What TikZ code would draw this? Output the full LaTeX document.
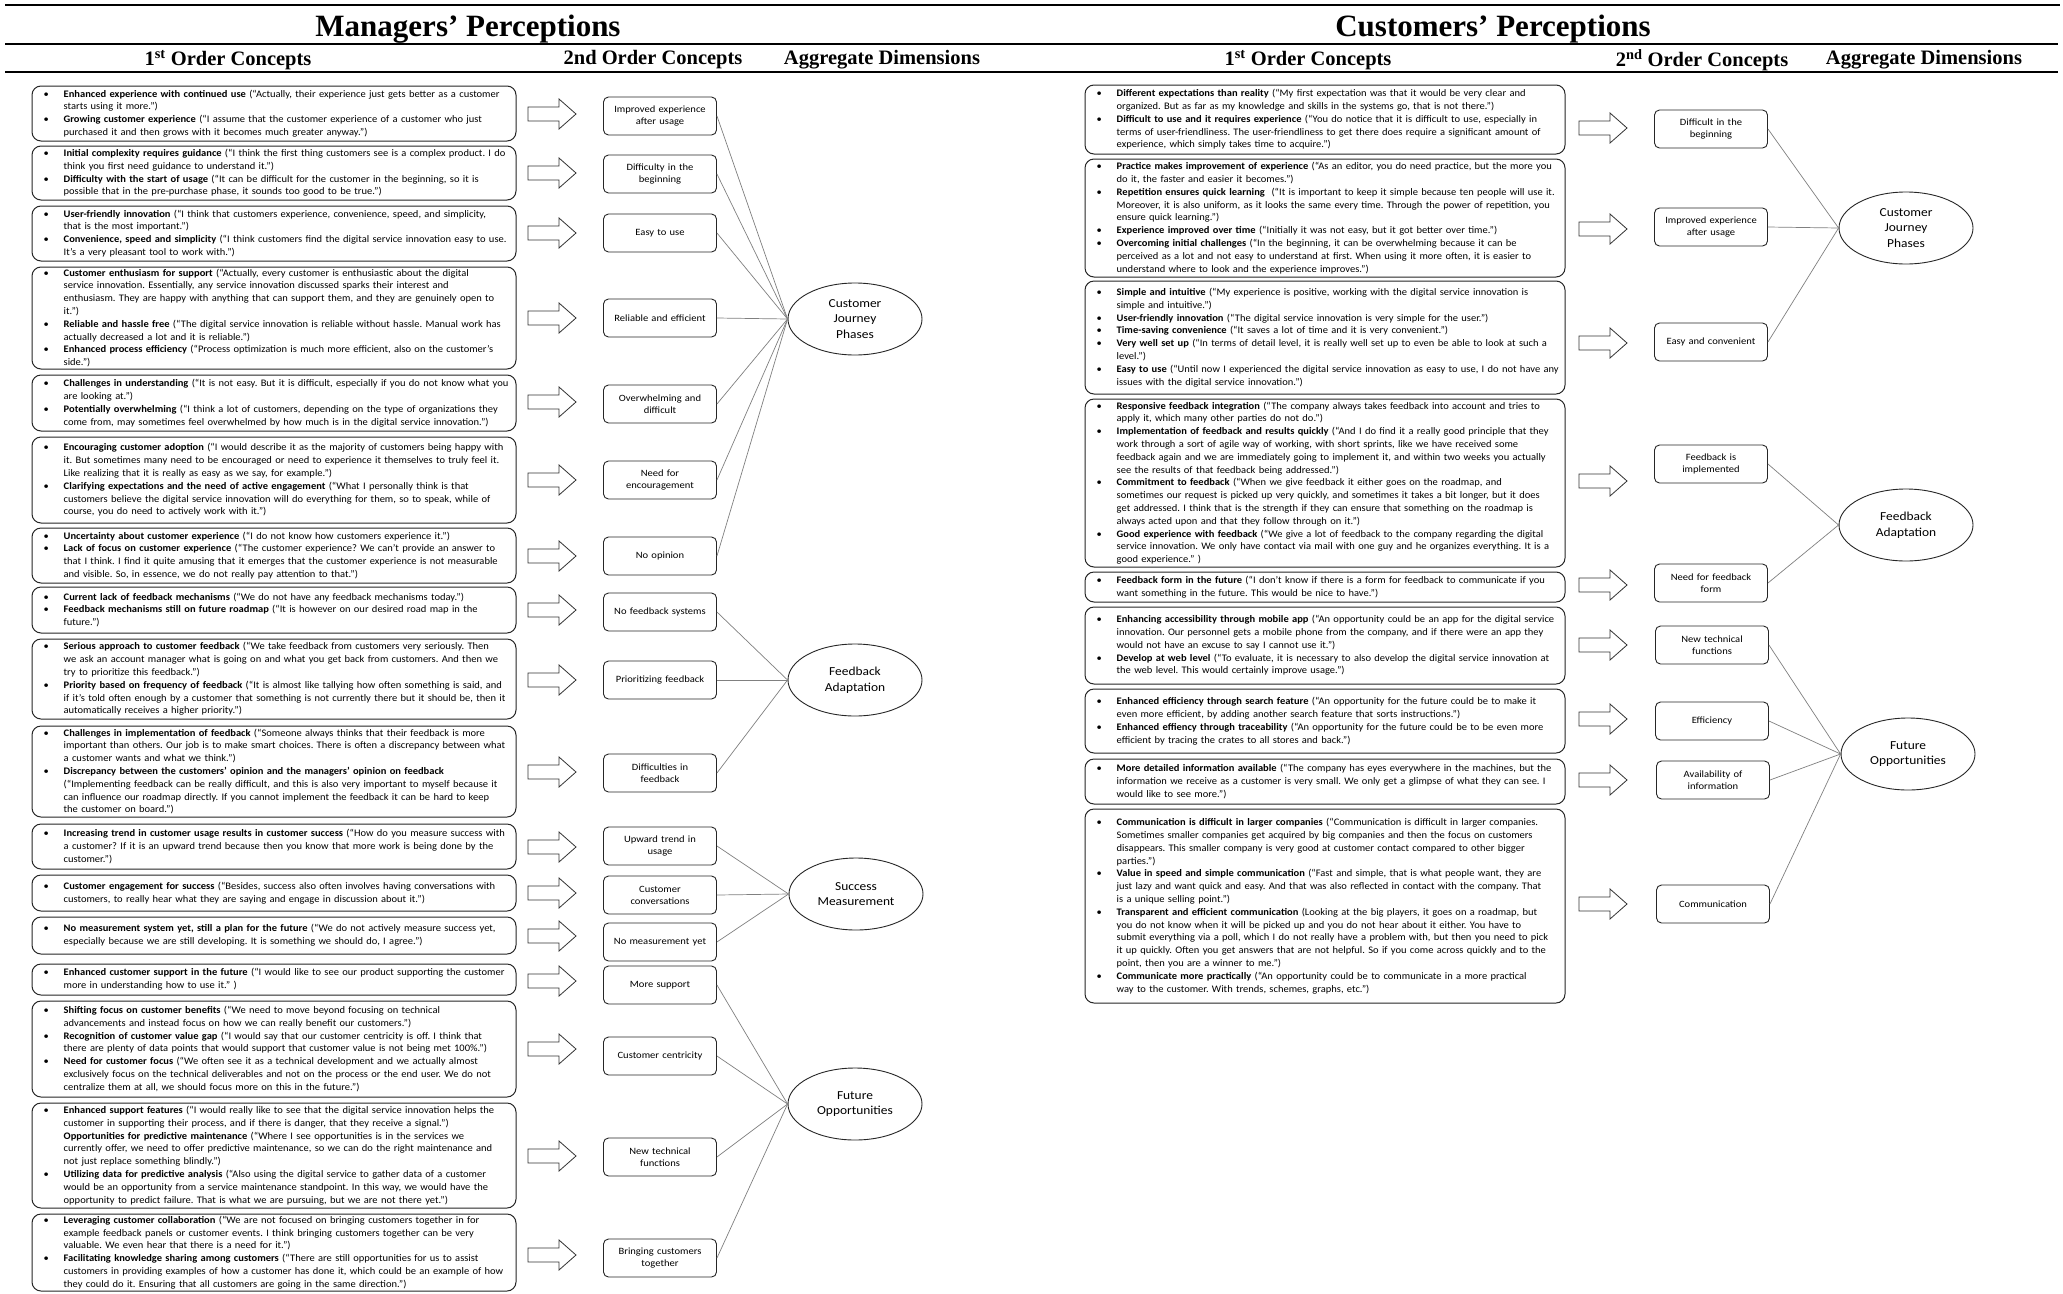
\documentclass[tikz,border=0pt]{standalone}
\usepackage{fontspec}
\setmainfont{Carlito}
\newfontfamily\cb[FakeStretch=1.05]{Carlito}
\newfontfamily\cs[FakeStretch=1.1]{Carlito}
\newfontfamily\hd{Liberation Serif}
\usetikzlibrary{shapes.geometric}
\newcommand\BL{\makebox[20pt][l]{•}}
\newcommand\CL{\hspace*{20pt}}
\tikzset{
 fobox/.style={draw=black!85, line width=1pt, rounded corners=9pt, inner sep=0pt},
 lfo/.style={fobox, minimum width=484pt},
 rfo/.style={fobox, minimum width=480pt},
 fotext/.style={inner sep=0pt, text width=540pt, align=left, anchor=west, font=\cb\fontsize{10}{12.8}\selectfont},
 sobox/.style={draw=black!85, line width=0.9pt, rounded corners=5pt, minimum width=113pt, minimum height=38pt, text width=108pt, inner sep=0pt, align=center, font=\cs\fontsize{9.6}{12}\selectfont},
 agg/.style={draw=black!85, line width=0.9pt, ellipse, minimum width=134pt, minimum height=72pt, inner sep=0pt, align=center, font=\cs\fontsize{12.2}{15.8}\selectfont},
 link/.style={draw=black!50, line width=0.7pt},
 barrow/.style={draw=black!80, line width=0.8pt, fill=white},
 hdtitle/.style={font=\hd\bfseries\fontsize{31}{36}\selectfont, inner sep=0pt},
 hdsub/.style={font=\hd\bfseries\fontsize{20.5}{24}\selectfont, inner sep=0pt},
 hrule/.style={line width=2.8pt}
}
\newcommand\fol[4]{\node[lfo, minimum height={#3-#2}] (#1) at (274,{(#2+#3)/2}) {};
 \node[fotext] (#1t) at ([xshift=12pt]#1.west) {#4};}
\newcommand\forr[4]{\node[rfo, minimum height={#3-#2}] (#1) at (1325,{(#2+#3)/2}) {};
 \node[fotext] (#1t) at ([xshift=12pt]#1.west) {#4};}
\newcommand\barr[2]{\draw[barrow] (#1,#2-7) -- ++(31,0) -- ++(0,-8) -- ++(17,15) -- ++(-17,15) -- ++(0,-8) -- ++(-31,0) -- cycle;}
\begin{document}
\frenchspacing
\begin{tikzpicture}[x=1pt,y=-1pt]
\fill[white] (0,0) rectangle (2063,1293);
\useasboundingbox (0,0) rectangle (2063,1293);

% header
\draw[hrule] (5,5) -- (2060,5);
\draw[hrule] (5,44) -- (2058,44);
\draw[hrule] (5,72) -- (2058,72);
\node[hdtitle] (tm) at (468,29) {Managers’ Perceptions};
\node[hdtitle] (tc) at (1493,29) {Customers’ Perceptions};
\node[hdsub] (h1) at (228,60) {1\textsuperscript{st} Order Concepts};
\node[hdsub] (h2) at (653,60) {2nd Order Concepts};
\node[hdsub] (h3) at (882,60) {Aggregate Dimensions};
\node[hdsub] (h4) at (1308,60) {1\textsuperscript{st} Order Concepts};
\node[hdsub] (h5) at (1702,60) {2\textsuperscript{nd} Order Concepts};
\node[hdsub] (h6) at (1924,60) {Aggregate Dimensions};

% ---------------- LEFT: first order ----------------
\fol{l1}{86}{141}{\BL\textbf{Enhanced experience with continued use} (“Actually, their experience just gets better as a customer\\
\CL starts using it more.”)\\
\BL\textbf{Growing customer experience} (“I assume that the customer experience of a customer who just\\
\CL purchased it and then grows with it becomes much greater anyway.”)}
\fol{l2}{146}{200}{\BL\textbf{Initial complexity requires guidance} (“I think the first thing customers see is a complex product. I do\\
\CL think you first need guidance to understand it.”)\\
\BL\textbf{Difficulty with the start of usage} (“It can be difficult for the customer in the beginning, so it is\\
\CL possible that in the pre-purchase phase, it sounds too good to be true.”)}
\fol{l3}{206}{261}{\BL\textbf{User-friendly innovation} (“I think that customers experience, convenience, speed, and simplicity,\\
\CL that is the most important.”)\\
\BL\textbf{Convenience, speed and simplicity} (“I think customers find the digital service innovation easy to use.\\
\CL It’s a very pleasant tool to work with.”)}
\fol{l4}{267}{369}{\BL\textbf{Customer enthusiasm for support} (“Actually, every customer is enthusiastic about the digital\\
\CL service innovation. Essentially, any service innovation discussed sparks their interest and\\
\CL enthusiasm. They are happy with anything that can support them, and they are genuinely open to\\
\CL it.”)\\
\BL\textbf{Reliable and hassle free} (“The digital service innovation is reliable without hassle. Manual work has\\
\CL actually decreased a lot and it is reliable.”)\\
\BL\textbf{Enhanced process efficiency} (“Process optimization is much more efficient, also on the customer’s\\
\CL side.”)}
\fol{l5}{375}{431}{\BL\textbf{Challenges in understanding} (“It is not easy. But it is difficult, especially if you do not know what you\\
\CL are looking at.”)\\
\BL\textbf{Potentially overwhelming} (“I think a lot of customers, depending on the type of organizations they\\
\CL come from, may sometimes feel overwhelmed by how much is in the digital service innovation.”)}
\fol{l6}{437}{523}{\BL\textbf{Encouraging customer adoption} (“I would describe it as the majority of customers being happy with\\
\CL it. But sometimes many need to be encouraged or need to experience it themselves to truly feel it.\\
\CL Like realizing that it is really as easy as we say, for example.”)\\
\BL\textbf{Clarifying expectations and the need of active engagement} (“What I personally think is that\\
\CL customers believe the digital service innovation will do everything for them, so to speak, while of\\
\CL course, you do need to actively work with it.”)}
\fol{l7}{528}{583}{\BL\textbf{Uncertainty about customer experience} (“I do not know how customers experience it.”)\\
\BL\textbf{Lack of focus on customer experience} (“The customer experience? We can’t provide an answer to\\
\CL that I think. I find it quite amusing that it emerges that the customer experience is not measurable\\
\CL and visible. So, in essence, we do not really pay attention to that.”)}
\fol{l8}{587}{633}{\BL\textbf{Current lack of feedback mechanisms} (“We do not have any feedback mechanisms today.”)\\
\BL\textbf{Feedback mechanisms still on future roadmap} (“It is however on our desired road map in the\\
\CL future.”)}
\fol{l9}{639}{719}{\BL\textbf{Serious approach to customer feedback} (“We take feedback from customers very seriously. Then\\
\CL we ask an account manager what is going on and what you get back from customers. And then we\\
\CL try to prioritize this feedback.”)\\
\BL\textbf{Priority based on frequency of feedback} (“It is almost like tallying how often something is said, and\\
\CL if it’s told often enough by a customer that something is not currently there but it should be, then it\\
\CL automatically receives a higher priority.”)}
\fol{l10}{726}{817}{\BL\textbf{Challenges in implementation of feedback} (“Someone always thinks that their feedback is more\\
\CL important than others. Our job is to make smart choices. There is often a discrepancy between what\\
\CL a customer wants and what we think.”)\\
\BL\textbf{Discrepancy between the customers’ opinion and the managers’ opinion on feedback}\\
\CL (“Implementing feedback can be really difficult, and this is also very important to myself because it\\
\CL can influence our roadmap directly. If you cannot implement the feedback it can be hard to keep\\
\CL the customer on board.”)}
\fol{l11}{824}{869}{\BL\textbf{Increasing trend in customer usage results in customer success} (“How do you measure success with\\
\CL a customer? If it is an upward trend because then you know that more work is being done by the\\
\CL customer.”)}
\fol{l12}{875}{911}{\BL\textbf{Customer engagement for success} (“Besides, success also often involves having conversations with\\
\CL customers, to really hear what they are saying and engage in discussion about it.”)}
\fol{l13}{917}{954}{\BL\textbf{No measurement system yet, still a plan for the future} (“We do not actively measure success yet,\\
\CL especially because we are still developing. It is something we should do, I agree.”)}
\fol{l14}{964}{995}{\BL\textbf{Enhanced customer support in the future} (“I would like to see our product supporting the customer\\
\CL more in understanding how to use it.” )}
\fol{l15}{1001}{1097}{\BL\textbf{Shifting focus on customer benefits} (“We need to move beyond focusing on technical\\
\CL advancements and instead focus on how we can really benefit our customers.”)\\
\BL\textbf{Recognition of customer value gap} (“I would say that our customer centricity is off. I think that\\
\CL there are plenty of data points that would support that customer value is not being met 100\%.”)\\
\BL\textbf{Need for customer focus} (“We often see it as a technical development and we actually almost\\
\CL exclusively focus on the technical deliverables and not on the process or the end user. We do not\\
\CL centralize them at all, we should focus more on this in the future.”)}
\fol{l16}{1103}{1208}{\BL\textbf{Enhanced support features} (“I would really like to see that the digital service innovation helps the\\
\CL customer in supporting their process, and if there is danger, that they receive a signal.”)\\
\CL\textbf{Opportunities for predictive maintenance} (“Where I see opportunities is in the services we\\
\CL currently offer, we need to offer predictive maintenance, so we can do the right maintenance and\\
\CL not just replace something blindly.”)\\
\BL\textbf{Utilizing data for predictive analysis} (“Also using the digital service to gather data of a customer\\
\CL would be an opportunity from a service maintenance standpoint. In this way, we would have the\\
\CL opportunity to predict failure. That is what we are pursuing, but we are not there yet.”)}
\fol{l17}{1214}{1291}{\BL\textbf{Leveraging customer collaboration} (“We are not focused on bringing customers together in for\\
\CL example feedback panels or customer events. I think bringing customers together can be very\\
\CL valuable. We even hear that there is a need for it.”)\\
\BL\textbf{Facilitating knowledge sharing among customers} (“There are still opportunities for us to assist\\
\CL customers in providing examples of how a customer has done it, which could be an example of how\\
\CL they could do it. Ensuring that all customers are going in the same direction.”)}

% left block arrows
\foreach \yy in {114,173,233,318,402,480,556,610,680,772,847,893,936,981,1049,1156,1255} {\barr{528}{\yy}}

% left second order
\node[sobox] (s1) at (660,116) {Improved experience\\after usage};
\node[sobox] (s2) at (660,174) {Difficulty in the\\beginning};
\node[sobox] (s3) at (660,233) {Easy to use};
\node[sobox] (s4) at (660,318) {Reliable and efficient};
\node[sobox] (s5) at (660,404) {Overwhelming and\\difficult};
\node[sobox] (s6) at (660,480) {Need for\\encouragement};
\node[sobox] (s7) at (660,556) {No opinion};
\node[sobox] (s8) at (660,612) {No feedback systems};
\node[sobox] (s9) at (660,680) {Prioritizing feedback};
\node[sobox] (s10) at (660,773) {Difficulties in\\feedback};
\node[sobox] (s11) at (660,846) {Upward trend in\\usage};
\node[sobox] (s12) at (660,895) {Customer\\conversations};
\node[sobox] (s13) at (660,942) {No measurement yet};
\node[sobox] (s14) at (660,985) {More support};
\node[sobox] (s15) at (660,1056) {Customer centricity};
\node[sobox] (s16) at (660,1157) {New technical\\functions};
\node[sobox] (s17) at (660,1258) {Bringing customers\\together};

% left aggregates
\node[agg] (a1) at (855,319) {Customer\\Journey\\Phases};
\node[agg] (a2) at (855,680) {Feedback\\Adaptation};
\node[agg] (a3) at (856,894) {Success\\Measurement};
\node[agg] (a4) at (855,1104) {Future\\Opportunities};

\foreach \s in {s1,s2,s3,s4,s5,s6,s7} {\draw[link] (\s.east) -- (a1.west);}
\foreach \s in {s8,s9,s10} {\draw[link] (\s.east) -- (a2.west);}
\foreach \s in {s11,s12,s13} {\draw[link] (\s.east) -- (a3.west);}
\foreach \s in {s14,s15,s16,s17} {\draw[link] (\s.east) -- (a4.west);}

% ---------------- RIGHT: first order ----------------
\forr{r1}{85}{154}{\BL\textbf{Different expectations than reality} (“My first expectation was that it would be very clear and\\
\CL organized. But as far as my knowledge and skills in the systems go, that is not there.”)\\
\BL\textbf{Difficult to use and it requires experience} (“You do notice that it is difficult to use, especially in\\
\CL terms of user-friendliness. The user-friendliness to get there does require a significant amount of\\
\CL experience, which simply takes time to acquire.”)}
\forr{r2}{159}{277}{\BL\textbf{Practice makes improvement of experience} (“As an editor, you do need practice, but the more you\\
\CL do it, the faster and easier it becomes.”)\\
\BL\textbf{Repetition ensures quick learning}\ \ (“It is important to keep it simple because ten people will use it.\\
\CL Moreover, it is also uniform, as it looks the same every time. Through the power of repetition, you\\
\CL ensure quick learning.”)\\
\BL\textbf{Experience improved over time} (“Initially it was not easy, but it got better over time.”)\\
\BL\textbf{Overcoming initial challenges} (“In the beginning, it can be overwhelming because it can be\\
\CL perceived as a lot and not easy to understand at first. When using it more often, it is easier to\\
\CL understand where to look and the experience improves.”)}
\forr{r3}{281}{394}{\BL\textbf{Simple and intuitive} (“My experience is positive, working with the digital service innovation is\\
\CL simple and intuitive.”)\\
\BL\textbf{User-friendly innovation} (“The digital service innovation is very simple for the user.”)\\
\BL\textbf{Time-saving convenience} (“It saves a lot of time and it is very convenient.”)\\
\BL\textbf{Very well set up} (“In terms of detail level, it is really well set up to even be able to look at such a\\
\CL level.”)\\
\BL\textbf{Easy to use} (“Until now I experienced the digital service innovation as easy to use, I do not have any\\
\CL issues with the digital service innovation.”)}
\forr{r4}{399}{567}{\BL\textbf{Responsive feedback integration} (“The company always takes feedback into account and tries to\\
\CL apply it, which many other parties do not do.”)\\
\BL\textbf{Implementation of feedback and results quickly} (“And I do find it a really good principle that they\\
\CL work through a sort of agile way of working, with short sprints, like we have received some\\
\CL feedback again and we are immediately going to implement it, and within two weeks you actually\\
\CL see the results of that feedback being addressed.”)\\
\BL\textbf{Commitment to feedback} (“When we give feedback it either goes on the roadmap, and\\
\CL sometimes our request is picked up very quickly, and sometimes it takes a bit longer, but it does\\
\CL get addressed. I think that is the strength if they can ensure that something on the roadmap is\\
\CL always acted upon and that they follow through on it.”)\\
\BL\textbf{Good experience with feedback} (“We give a lot of feedback to the company regarding the digital\\
\CL service innovation. We only have contact via mail with one guy and he organizes everything. It is a\\
\CL good experience.” )}
\forr{r5}{572}{602}{\BL\textbf{Feedback form in the future} (“I don’t know if there is a form for feedback to communicate if you\\
\CL want something in the future. This would be nice to have.”)}
\forr{r6}{607}{684}{\BL\textbf{Enhancing accessibility through mobile app} (“An opportunity could be an app for the digital service\\
\CL innovation. Our personnel gets a mobile phone from the company, and if there were an app they\\
\CL would not have an excuse to say I cannot use it.”)\\
\BL\textbf{Develop at web level} (“To evaluate, it is necessary to also develop the digital service innovation at\\
\CL the web level. This would certainly improve usage.”)}
\forr{r7}{689}{753}{\BL\textbf{Enhanced efficiency through search feature} (“An opportunity for the future could be to make it\\
\CL even more efficient, by adding another search feature that sorts instructions.”)\\
\BL\textbf{Enhanced effiency through traceability} (“An opportunity for the future could be to be even more\\
\CL efficient by tracing the crates to all stores and back.”)}
\forr{r8}{759}{804}{\BL\textbf{More detailed information available} (“The company has eyes everywhere in the machines, but the\\
\CL information we receive as a customer is very small. We only get a glimpse of what they can see. I\\
\CL would like to see more.”)}
\forr{r9}{809}{1003}{\BL\textbf{Communication is difficult in larger companies} (“Communication is difficult in larger companies.\\
\CL Sometimes smaller companies get acquired by big companies and then the focus on customers\\
\CL disappears. This smaller company is very good at customer contact compared to other bigger\\
\CL parties.”)\\
\BL\textbf{Value in speed and simple communication} (“Fast and simple, that is what people want, they are\\
\CL just lazy and want quick and easy. And that was also reflected in contact with the company. That\\
\CL is a unique selling point.”)\\
\BL\textbf{Transparent and efficient communication} (Looking at the big players, it goes on a roadmap, but\\
\CL you do not know when it will be picked up and you do not hear about it either. You have to\\
\CL submit everything via a poll, which I do not really have a problem with, but then you need to pick\\
\CL it up quickly. Often you get answers that are not helpful. So if you come across quickly and to the\\
\CL point, then you are a winner to me.”)\\
\BL\textbf{Communicate more practically} (“An opportunity could be to communicate in a more practical\\
\CL way to the customer. With trends, schemes, graphs, etc.”)}

% right block arrows
\foreach \yy in {128,229,343,481,585,645,719,780,904} {\barr{1579}{\yy}}

% right second order
\node[sobox] (t1) at (1711,129) {Difficult in the\\beginning};
\node[sobox] (t2) at (1711,227) {Improved experience\\after usage};
\node[sobox] (t3) at (1711,342) {Easy and convenient};
\node[sobox] (t4) at (1711,464) {Feedback is\\implemented};
\node[sobox] (t5) at (1711,583) {Need for feedback\\form};
\node[sobox] (t6) at (1712,645) {New technical\\functions};
\node[sobox] (t7) at (1712,721) {Efficiency};
\node[sobox] (t8) at (1713,780) {Availability of\\information};
\node[sobox] (t9) at (1713,904) {Communication};

% right aggregates
\node[agg] (b1) at (1906,228) {Customer\\Journey\\Phases};
\node[agg] (b2) at (1906,525) {Feedback\\Adaptation};
\node[agg] (b3) at (1908,754) {Future\\Opportunities};

\foreach \s in {t1,t2,t3} {\draw[link] (\s.east) -- (b1.west);}
\foreach \s in {t4,t5} {\draw[link] (\s.east) -- (b2.west);}
\foreach \s in {t6,t7,t8,t9} {\draw[link] (\s.east) -- (b3.west);}
\end{tikzpicture}
\end{document}
